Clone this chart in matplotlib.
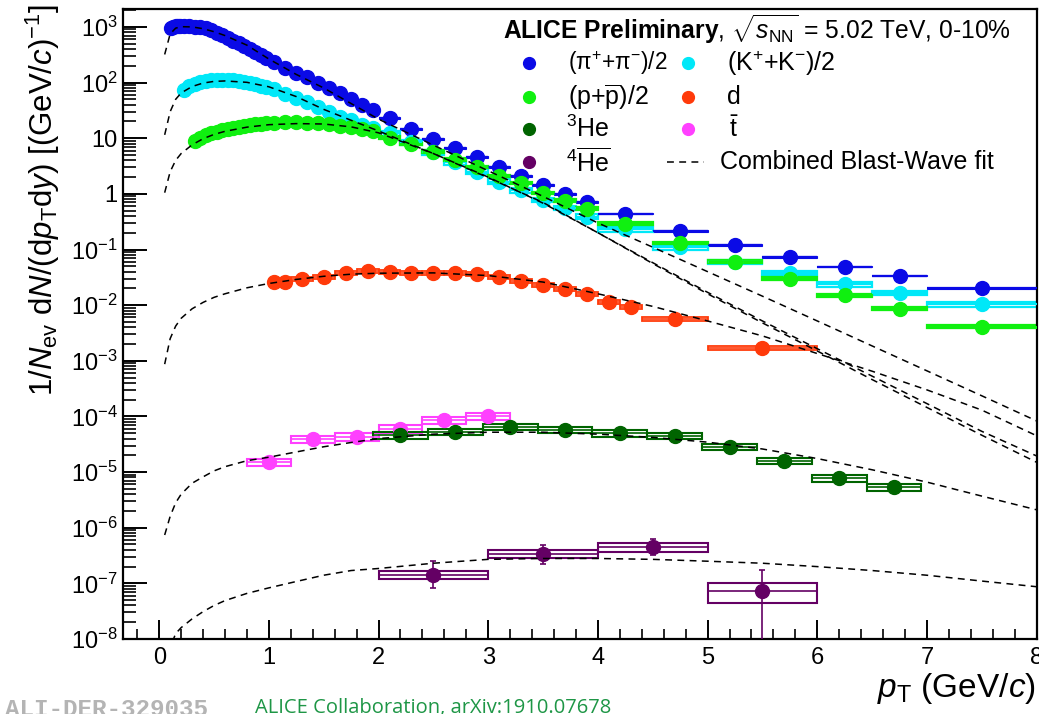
import matplotlib
matplotlib.use("Agg")
import matplotlib.pyplot as plt
from matplotlib.patches import Rectangle
from matplotlib.lines import Line2D
from matplotlib.ticker import FixedLocator, FuncFormatter, MultipleLocator, NullFormatter
import numpy as np

plt.rcParams['font.family'] = ['Liberation Sans', 'DejaVu Sans']
plt.rcParams['mathtext.fontset'] = 'custom'
plt.rcParams['mathtext.rm'] = 'Liberation Sans'
plt.rcParams['mathtext.it'] = 'Liberation Sans:italic'
plt.rcParams['mathtext.bf'] = 'Liberation Sans:bold'
plt.rcParams['mathtext.sf'] = 'Liberation Sans'

# ---------------- spectra (0-10% Pb-Pb, 5.02 TeV) ----------------
pi_lo = [0.10, 0.12, 0.14, 0.16, 0.18, 0.20, 0.25, 0.30, 0.35, 0.40, 0.45, 0.50, 0.55, 0.60,
         0.65, 0.70, 0.75, 0.80, 0.85, 0.90, 0.95, 1.0, 1.1, 1.2, 1.3, 1.4, 1.5, 1.6, 1.7, 1.8,
         1.9, 2.0, 2.2, 2.4, 2.6, 2.8, 3.0, 3.2, 3.4, 3.6, 3.8, 4.0, 4.5, 5.0, 5.5, 6.0, 6.5, 7.0]
pi_hi = [0.12, 0.14, 0.16, 0.18, 0.20, 0.25, 0.30, 0.35, 0.40, 0.45, 0.50, 0.55, 0.60, 0.65,
         0.70, 0.75, 0.80, 0.85, 0.90, 0.95, 1.0, 1.1, 1.2, 1.3, 1.4, 1.5, 1.6, 1.7, 1.8, 1.9,
         2.0, 2.2, 2.4, 2.6, 2.8, 3.0, 3.2, 3.4, 3.6, 3.8, 4.0, 4.5, 5.0, 5.5, 6.0, 6.5, 7.0, 8.0]
pi_val = [950, 1000, 1030, 1050, 1055, 1050, 1030, 1000, 980, 940, 870, 790, 710, 630,
          565, 505, 450, 400, 355, 315, 280, 235, 185, 149, 125, 99, 80, 65, 51, 40,
          32, 23.1, 14.7, 9.7, 6.7, 4.6, 3.05, 2.1, 1.45, 1.0, 0.72, 0.44, 0.215, 0.121,
          0.073, 0.049, 0.034, 0.020]

k_lo = [0.20, 0.25, 0.30, 0.35, 0.40, 0.45, 0.50, 0.55, 0.60, 0.65, 0.70, 0.75, 0.80, 0.85,
        0.90, 0.95, 1.0, 1.1, 1.2, 1.3, 1.4, 1.5, 1.6, 1.7, 1.8, 1.9, 2.0, 2.2, 2.4, 2.6, 2.8,
        3.0, 3.2, 3.4, 3.6, 3.8, 4.0, 4.5, 5.0, 5.5, 6.0, 6.5, 7.0]
k_hi = [0.25, 0.30, 0.35, 0.40, 0.45, 0.50, 0.55, 0.60, 0.65, 0.70, 0.75, 0.80, 0.85, 0.90,
        0.95, 1.0, 1.1, 1.2, 1.3, 1.4, 1.5, 1.6, 1.7, 1.8, 1.9, 2.0, 2.2, 2.4, 2.6, 2.8, 3.0,
        3.2, 3.4, 3.6, 3.8, 4.0, 4.5, 5.0, 5.5, 6.0, 6.5, 7.0, 8.0]
k_val = [74, 86, 95, 102, 107, 110, 112, 113, 112, 110, 107, 103, 98, 93,
         88, 83, 77, 62, 53, 44, 36, 29, 24.5, 21, 17.5, 15, 12.4, 8.4, 5.6, 3.7, 2.5,
         1.65, 1.17, 0.78, 0.56, 0.39, 0.23, 0.11, 0.060, 0.038, 0.024, 0.0166, 0.0105]

p_lo = [0.30, 0.35, 0.40, 0.45, 0.50, 0.55, 0.60, 0.65, 0.70, 0.75, 0.80, 0.85, 0.90, 0.95,
        1.0, 1.1, 1.2, 1.3, 1.4, 1.5, 1.6, 1.7, 1.8, 1.9, 2.0, 2.2, 2.4, 2.6, 2.8, 3.0, 3.2,
        3.4, 3.6, 3.8, 4.0, 4.5, 5.0, 5.5, 6.0, 6.5, 7.0]
p_hi = [0.35, 0.40, 0.45, 0.50, 0.55, 0.60, 0.65, 0.70, 0.75, 0.80, 0.85, 0.90, 0.95, 1.0,
        1.1, 1.2, 1.3, 1.4, 1.5, 1.6, 1.7, 1.8, 1.9, 2.0, 2.2, 2.4, 2.6, 2.8, 3.0, 3.2, 3.4,
        3.6, 3.8, 4.0, 4.5, 5.0, 5.5, 6.0, 6.5, 7.0, 8.0]
p_val = [8.9, 10.1, 11.2, 12.2, 13.0, 13.8, 14.6, 15.3, 16.0, 16.6, 17.2, 17.7, 18.1, 18.5,
         18.8, 19.2, 19.3, 19.0, 18.6, 17.8, 16.8, 15.7, 14.5, 13.3, 10.3, 7.9, 5.7, 4.1, 3.05,
         2.1, 1.57, 1.04, 0.75, 0.54, 0.29, 0.131, 0.060, 0.030, 0.0152, 0.0086, 0.0041]

d_lo = [1.0, 1.1, 1.2, 1.4, 1.6, 1.8, 2.0, 2.2, 2.4, 2.6, 2.8, 3.0, 3.2, 3.4, 3.6, 3.8, 4.0,
        4.2, 4.4, 5.0]
d_hi = [1.1, 1.2, 1.4, 1.6, 1.8, 2.0, 2.2, 2.4, 2.6, 2.8, 3.0, 3.2, 3.4, 3.6, 3.8, 4.0, 4.2,
        4.4, 5.0, 6.0]
d_val = [0.0258, 0.0262, 0.0296, 0.0321, 0.0379, 0.0412, 0.0395, 0.0379, 0.0379, 0.0379,
         0.0364, 0.0321, 0.0272, 0.0231, 0.0195, 0.0159, 0.0114, 0.0093, 0.0056, 0.0017]

he3_pt = [2.2, 2.7, 3.2, 3.7, 4.2, 4.7, 5.2, 5.7, 6.2, 6.7]
he3_val = [4.6e-5, 5.3e-5, 6.5e-5, 5.7e-5, 5.0e-5, 4.5e-5, 2.85e-5, 1.6e-5, 7.7e-6, 5.3e-6]

t_pt = [1.0, 1.4, 1.8, 2.2, 2.6, 3.0]
t_val = [1.5e-5, 3.9e-5, 4.3e-5, 6.0e-5, 8.6e-5, 1.02e-4]
t_stat = [2.5e-6, 3e-6, 3e-6, 4e-6, 5e-6, 6e-6]

he4_pt = [2.5, 3.5, 4.5, 5.5]
he4_val = [1.42e-7, 3.4e-7, 4.5e-7, 7.3e-8]
he4_stat_lo = [0.59e-7, 1.15e-7, 1.2e-7, 7.29e-8]
he4_stat_hi = [1.1e-7, 1.4e-7, 1.7e-7, 1.0e-7]
he4_syst = [0.17, 0.16, 0.18, 0.40]

# ---------------- combined Blast-Wave fit curves ----------------
fit_pt = [0.05, 0.1, 0.15, 0.2, 0.3, 0.4, 0.5, 0.6, 0.8, 1.0, 1.25, 1.5, 1.75, 2.0, 2.5, 3.0,
          3.5, 4.0, 4.5, 5.0, 5.5, 6.0, 6.5, 7.0, 7.5, 8.0]
fit_pi = [320, 750, 950, 1010, 1000, 930, 820, 700, 470, 265, 140, 80, 42, 22, 7.5, 2.6,
          0.9, 0.3, 0.11, 0.04, 0.0145, 5.2e-3, 1.85e-3, 6.6e-4, 2.35e-4, 8.3e-5]
fit_k = [11.5, 30, 50, 65, 85, 98, 105, 107, 101, 84, 56, 33, 21, 13.5, 5.3, 2.0,
         0.68, 0.2, 0.056, 0.016, 4.8e-3, 1.5e-3, 4.6e-4, 1.45e-4, 4.6e-5, 1.5e-5]
fit_p = [1.05, 2.5, 4.0, 5.3, 7.6, 9.8, 11.7, 13.3, 15.8, 17.5, 18.3, 18.0, 16.0, 12.5, 5.3,
         1.95, 0.7, 0.2, 0.058, 0.017, 5.2e-3, 1.65e-3, 5.3e-4, 1.7e-4, 5.4e-5, 1.95e-5]
fit_d = [8.7e-4, 2.5e-3, 4.2e-3, 5.8e-3, 8.6e-3, 1.12e-2, 1.38e-2, 1.6e-2, 2.05e-2, 2.45e-2,
         2.9e-2, 3.3e-2, 3.6e-2, 3.75e-2, 3.8e-2, 3.4e-2, 2.6e-2, 1.6e-2, 9.5e-3, 5.2e-3,
         2.8e-3, 1.35e-3, 6.5e-4, 3.0e-4, 1.3e-4, 4.5e-5]
fit_he3 = [7.4e-7, 1.6e-6, 2.8e-6, 4.0e-6, 6.3e-6, 8.2e-6, 1.05e-5, 1.25e-5, 1.6e-5, 1.85e-5,
           2.3e-5, 2.85e-5, 3.4e-5, 4.0e-5, 4.8e-5, 5.2e-5, 5.2e-5, 4.8e-5, 4.2e-5, 3.45e-5,
           2.6e-5, 1.75e-5, 1.1e-5, 6.6e-6, 3.7e-6, 2.1e-6]
fit_he4 = [2e-9, 7e-9, 1.25e-8, 1.6e-8, 2.3e-8, 3.1e-8, 4.0e-8, 4.9e-8, 6.6e-8, 8.3e-8,
           1.08e-7, 1.4e-7, 1.7e-7, 1.85e-7, 2.3e-7, 2.7e-7, 2.8e-7, 2.8e-7, 2.7e-7, 2.5e-7,
           2.3e-7, 2.0e-7, 1.7e-7, 1.4e-7, 1.1e-7, 8.7e-8]

c_pi = '#0a0ae6'
c_k = '#00e8f8'
c_p = '#10f010'
c_d = '#ff3a0a'
c_he3 = '#006400'
c_t = '#ff40ff'
c_he4 = '#640064'

W, H = 1039, 714
fig = plt.figure(figsize=(W / 100, H / 100), dpi=100)
ax = fig.add_axes([123 / W, 75 / H, (1036.6 - 123) / W, (639 - 9) / H])
ax.set_yscale('log')
ax.set_xlim(-0.33, 8.0)
ax.set_ylim(1e-8, 2100)

MS = 10


def binned(lo, hi, val, color, syst, box_lw, bar_lw, stat=None):
    lo = np.asarray(lo); hi = np.asarray(hi); val = np.asarray(val)
    cen = 0.5 * (lo + hi)
    for a, b, v in zip(lo, hi, val):
        ax.add_patch(Rectangle((a, v * (1 - syst)), b - a, 2 * v * syst,
                               facecolor='none', edgecolor=color, lw=box_lw, zorder=2))
    ax.errorbar(cen, val, xerr=[cen - lo, hi - cen], yerr=stat, fmt='o', color=color,
                ms=MS, elinewidth=bar_lw, capsize=0, zorder=3)


binned(pi_lo, pi_hi, pi_val, c_pi, 0.03, 0.8, 1.6)
binned(k_lo, k_hi, k_val, c_k, 0.10, 1.6, 1.6)
binned(p_lo, p_hi, p_val, c_p, 0.06, 1.6, 2.2)
binned(d_lo, d_hi, d_val, c_d, 0.09, 1.3, 1.2)


def centred(pt, half, val, color, syst, stat_lo=None, stat_hi=None, caps=0):
    pt = np.asarray(pt); val = np.asarray(val)
    syst = np.broadcast_to(np.asarray(syst, dtype=float), val.shape)
    for x, v, s in zip(pt, val, syst):
        ax.add_patch(Rectangle((x - half, v * (1 - s)), 2 * half, 2 * v * s,
                               facecolor='none', edgecolor=color, lw=1.5, zorder=2))
    yerr = None
    if stat_lo is not None:
        yerr = [stat_lo, stat_hi]
    ax.errorbar(pt, val, xerr=half, yerr=yerr, fmt='o', color=color, ms=MS,
                elinewidth=1.2, capsize=caps, capthick=1.2, zorder=3)


centred(t_pt, 0.2, t_val, c_t, 0.15, t_stat, t_stat)
centred(he3_pt, 0.25, he3_val, c_he3, 0.13)
centred(he4_pt, 0.5, he4_val, c_he4, he4_syst, he4_stat_lo, he4_stat_hi, caps=2.5)

for f in (fit_pi, fit_k, fit_p, fit_d, fit_he3, fit_he4):
    ax.plot(fit_pt, f, color='black', lw=1.1, ls=(0, (4.5, 3.5)), zorder=5)

# ---------------- axes styling ----------------
for s in ax.spines.values():
    s.set_linewidth(1.6)

ax.yaxis.set_major_locator(FixedLocator([10.0 ** e for e in range(-8, 4)]))


def ylab(v, pos):
    e = int(round(np.log10(v)))
    if e == 0:
        return '1'
    if e == 1:
        return '10'
    return r'$10^{%d}$' % e


ax.yaxis.set_major_formatter(FuncFormatter(ylab))
ax.yaxis.set_minor_locator(FixedLocator([m * 10.0 ** e for e in range(-8, 4) for m in range(2, 10)]))
ax.yaxis.set_minor_formatter(NullFormatter())
ax.xaxis.set_major_locator(FixedLocator(list(range(0, 9))))
ax.xaxis.set_minor_locator(MultipleLocator(0.2))

ax.tick_params(axis='y', which='major', direction='in', length=17, width=1.4, labelsize=17,
               pad=4, right=False)
ax.tick_params(axis='y', which='minor', direction='in', length=9, width=1.2, right=False)
ax.tick_params(axis='x', which='major', direction='in', length=13.5, width=1.4, labelsize=17,
               pad=6, top=False)
ax.tick_params(axis='x', which='minor', direction='in', length=7, width=1.2, top=False)

fig.text(43 / W, 1 - 4 / H,
         r'1/$N_{\mathrm{ev}}$ d$N$/(d$p_{\mathrm{T}}$d$y$) [(GeV/$c$)$^{-1}$]',
         rotation=90, ha='center', va='top', fontsize=22.5)
fig.text(1036 / W, 1 - 697 / H, r'$p_{\mathrm{T}}$ (GeV/$c$)', ha='right', va='baseline',
         fontsize=24)

# ---------------- legend ----------------
fig.text(503 / W, 1 - 29 / H,
         r'$\mathbf{ALICE\ Preliminary}$, $\sqrt{s_{\mathrm{NN}}}$ = 5.02 TeV, 0-10%',
         ha='left', va='center', fontsize=17.7)

rows = [63, 97, 129, 162]
entries = [
    (529, rows[0], c_pi, '(π$^{+}$+π$^{-}$)/2', 568, 16.3),
    (688, rows[0], c_k, r'(K$^{+}$+K$^{-}$)/2', 727, 18),
    (529, rows[1], c_p, r'(p+$\overline{\mathrm{p}}$)/2', 568, 18),
    (688, rows[1], c_d, 'd', 727, 18),
    (529, rows[2], c_he3, r'$^{3}$He', 566, 18),
    (688, rows[2], c_t, r'$\bar{\mathrm{t}}$', 729, 18),
    (529, rows[3], c_he4, r'$^{4}\overline{\mathrm{He}}$', 566, 18),
]
for mx, my, col, lab, tx, fs in entries:
    fig.add_artist(Line2D([mx / W], [1 - my / H], transform=fig.transFigure, marker='o',
                          ms=8.5, color=col, ls='none'))
    fig.text(tx / W, 1 - my / H, lab, ha='left', va='center', fontsize=fs)
fig.add_artist(Line2D([667 / W, 704 / W], [1 - rows[3] / H] * 2, transform=fig.transFigure,
                      color='black', lw=1.1, ls=(0, (4.5, 3.5))))
fig.text(720 / W, 1 - rows[3] / H, 'Combined Blast-Wave fit', ha='left', va='center',
         fontsize=18)

fig.text(5 / W, 1 - 716 / H, 'ALI-DER-329035', ha='left', va='baseline', fontsize=17.5,
         family='Liberation Mono', weight='bold', color='#b4b4b4')
fig.text(255 / W, 1 - 713 / H, 'ALICE Collaboration, arXiv:1910.07678', ha='left',
         va='baseline', fontsize=14.5, family='Open Sans', color='#1e9646')

fig.savefig('out.png', dpi=100)
